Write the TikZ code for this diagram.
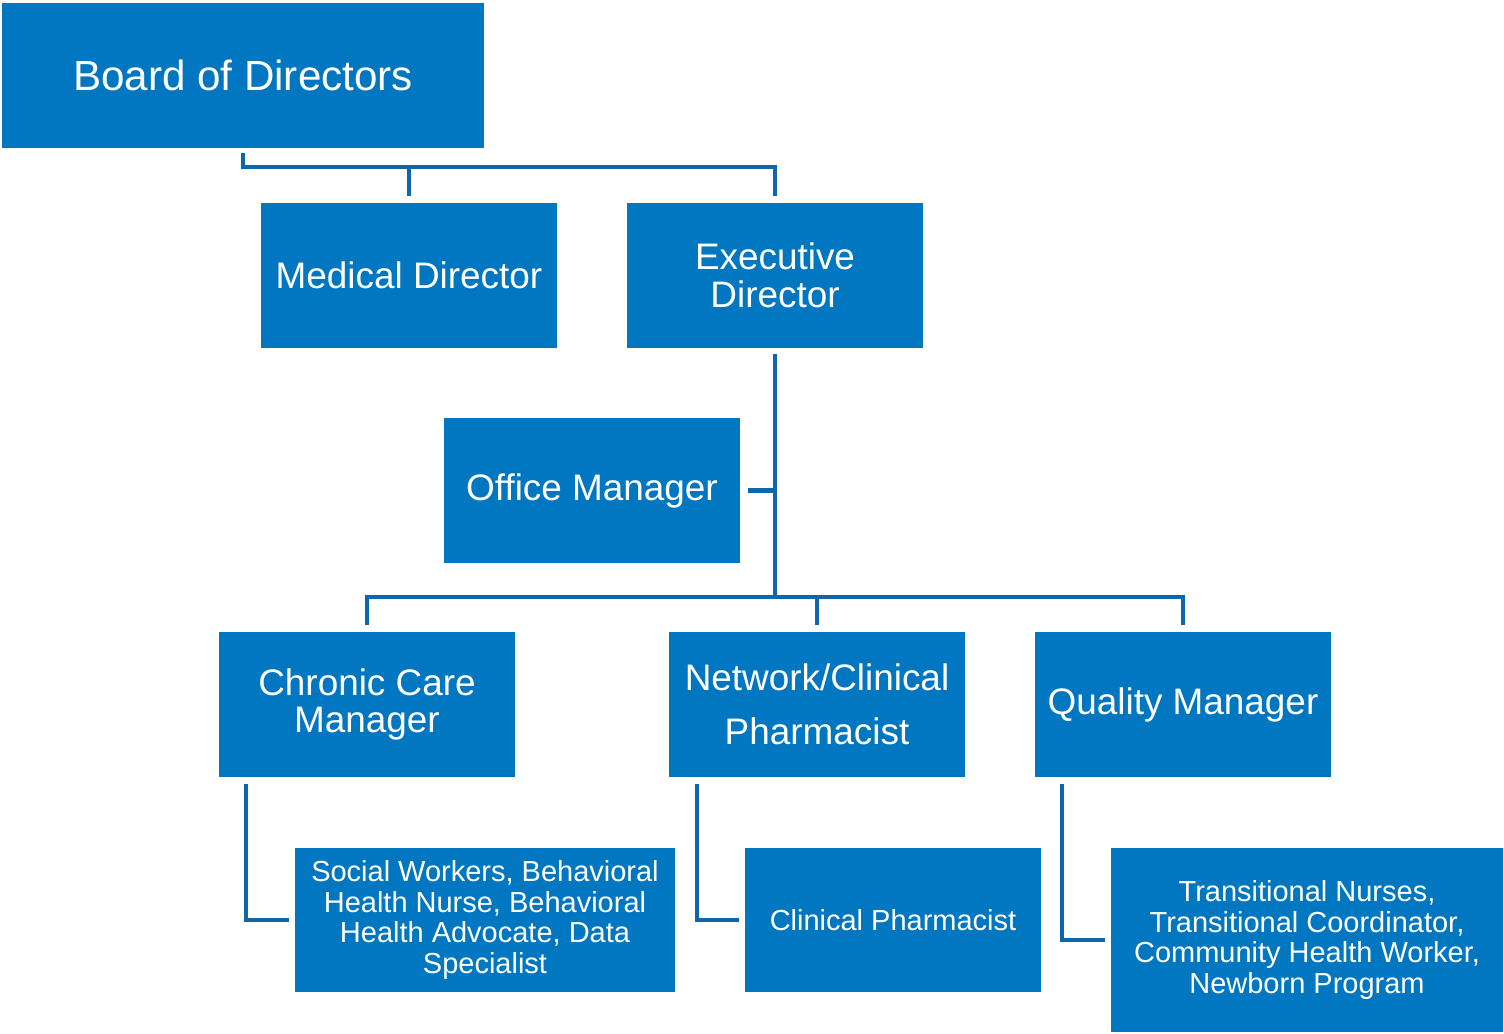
\documentclass[tikz,border=0pt]{standalone}
\usepackage{fontspec}
\setmainfont{Liberation Sans}
\usetikzlibrary{calc}
\definecolor{boxblue}{HTML}{0077C0}
\definecolor{lineblue}{HTML}{0D67AA}

\begin{document}
\begin{tikzpicture}[x=0.02cm,y=-0.02cm]
\tikzstyle{unit}=[rectangle,fill=boxblue,text=white,align=center,inner sep=2pt,
minimum width=5.92cm,minimum height=2.9cm]
\tikzstyle{top}=[unit,minimum width=9.64cm,font=\fontsize{24}{28}\selectfont]
\tikzstyle{head}=[unit,font=\fontsize{21}{21.5}\selectfont]
\tikzstyle{staff}=[unit,minimum height=2.88cm,font=\fontsize{16.5}{17.3}\selectfont]
\tikzstyle{link}=[draw=lineblue,line width=2.3pt]

\useasboundingbox (0,0) rectangle (1504,1034);

\node[top] (board) at (243,75.5) {Board of Directors};
\node[head] (medical) at (409,275.5) {Medical Director};
\node[head] (exec) at (775,275.5) {Executive\\Director};
\node[head] (office) at (592,490.5) {Office Manager};

\node[head] (chronic) at (367,704.5) {Chronic Care\\Manager};
\node[head] (network) at (817,704.5) {Network/Clinical\\[9pt]Pharmacist};
\node[head] (quality) at (1183,704.5) {Quality Manager};

\node[staff,minimum width=7.6cm] (social) at (485,920)
{Social Workers, Behavioral\\Health Nurse, Behavioral\\Health Advocate, Data\\Specialist};
\node[staff] (clinical) at (893,920) {Clinical Pharmacist};
\node[staff,minimum width=7.84cm,minimum height=3.68cm] (trans) at (1307,940)
{Transitional Nurses,\\Transitional Coordinator,\\Community Health Worker,\\Newborn Program};

% board to directors
\draw[link,shorten <=0.1cm,shorten >=0.14cm] (board.south) -- ++(0,19) -| (medical.north);
\draw[link,shorten <=0.1cm,shorten >=0.14cm] (board.south) -- ++(0,19) -| (exec.north);

% executive director to managers
\draw[link,shorten <=0.12cm,shorten >=0.14cm] (exec.south) -- ++(0,249) -| (chronic.north);
\draw[link,shorten <=0.12cm,shorten >=0.14cm] (exec.south) -- ++(0,249) -| (network.north);
\draw[link,shorten <=0.12cm,shorten >=0.14cm] (exec.south) -- ++(0,249) -| (quality.north);
\draw[link,shorten <=0.16cm] (office.east) -- (office.east -| exec.south);

% managers to staff
\draw[link] ([xshift=0.54cm,yshift=-0.14cm]chronic.south west) |- ([xshift=-0.12cm]social.west);
\draw[link] ([xshift=0.56cm,yshift=-0.14cm]network.south west) |- ([xshift=-0.12cm]clinical.west);
\draw[link] ([xshift=0.54cm,yshift=-0.14cm]quality.south west) |- ([xshift=-0.12cm]trans.west);

\end{tikzpicture}
\end{document}
